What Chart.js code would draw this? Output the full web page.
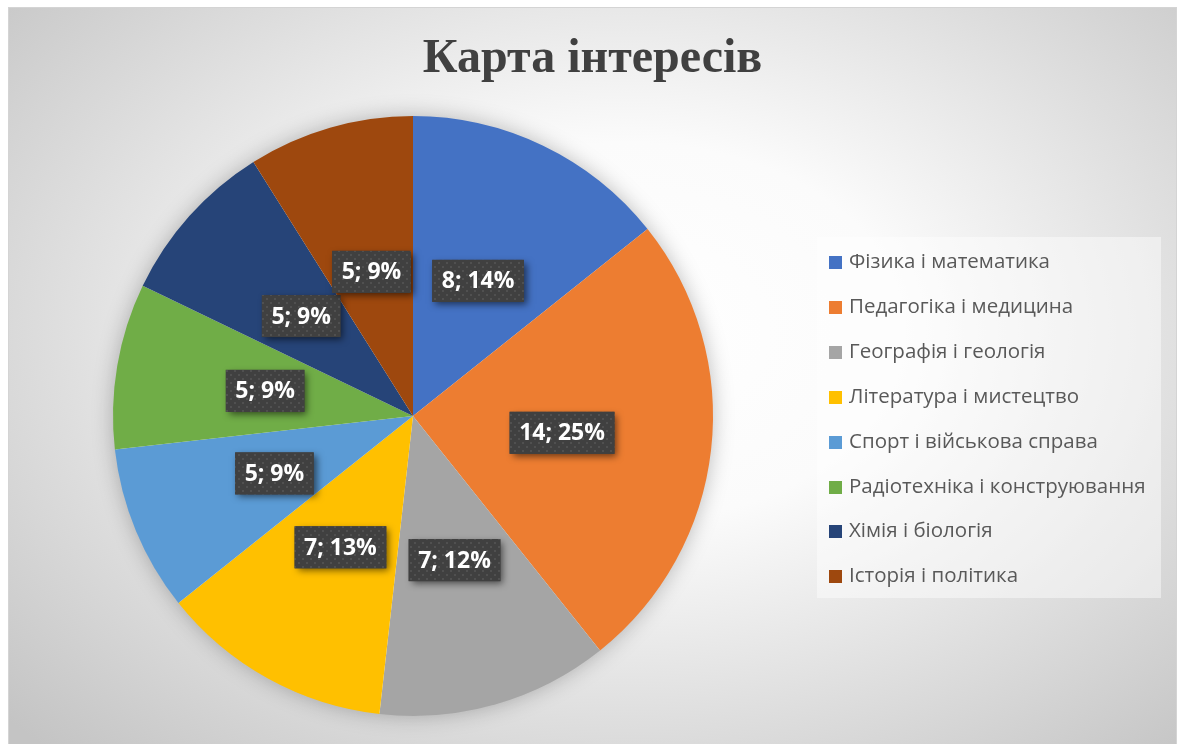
<!DOCTYPE html>
<html>
<head>
<meta charset="utf-8">
<script src="https://cdn.jsdelivr.net/npm/chart.js@4.4.1/dist/chart.umd.min.js"></script>
<style>
  html, body { margin: 0; padding: 0; background: #fff; }
  #frame {
    position: absolute; left: 8px; top: 7px; width: 1167px; height: 737px;
    border: 1px solid #d4d4d4; border-bottom: none;
    background: radial-gradient(ellipse 72% 78% at 53% 44%, #ffffff 0%, #fbfbfb 33%, #dedede 68%, #c4c4c4 100%);
    overflow: hidden;
  }
  #wrap { position: absolute; left: 0; top: 0; width: 1179px; height: 744px; }
  #title {
    position: absolute; left: 0; width: 1185px; top: 28px; text-align: center;
    font: bold 48px "Liberation Serif", "Times New Roman", serif; color: #404040;
  }
  #legend {
    position: absolute; left: 817px; top: 237px; width: 344px; height: 361px;
    background: rgba(255,255,255,0.45);
  }
  .item { position: absolute; left: 12px; height: 24px; line-height: 24px;
    font: 20.5px "Open Sans", sans-serif; color: #595959; white-space: nowrap; }
  .item span.sw { display: inline-block; width: 13px; height: 13px; margin-right: 7px; vertical-align: -1px; }
</style>
</head>
<body>
<div id="frame"></div>
<div id="wrap"><canvas id="pie" width="1179" height="744"></canvas></div>
<div id="title">Карта інтересів</div>
<div id="legend"></div>
<script>
// -----------------------------------------------------------
// DATA
// -----------------------------------------------------------

const categories = [
  "Фізика і математика",
  "Педагогіка і медицина",
  "Географія і геологія",
  "Література і мистецтво",
  "Спорт і військова справа",
  "Радіотехніка і конструювання",
  "Хімія і біологія",
  "Історія і політика"
];
const counts = [8, 14, 7, 7, 5, 5, 5, 5];
const percents = [14, 25, 12, 13, 9, 9, 9, 9];
const colors = ["#4472C4", "#ED7D31", "#A5A5A5", "#FFC000", "#5B9BD5", "#70AD47", "#264478", "#9E480E"];

// -----------------------------------------------------------
// LEGEND (html)
// -----------------------------------------------------------

const legendEl = document.getElementById("legend");
categories.forEach((c, i) => {
  const d = document.createElement("div");
  d.className = "item";
  d.style.top = (9 + i * 44.9) + "px";
  d.innerHTML = `<span class="sw" style="background:${colors[i]}"></span>${c}`;
  legendEl.appendChild(d);
});

// -----------------------------------------------------------
// PLUGINS
// -----------------------------------------------------------

// soft shadow round the pie
const pieShadow = {
  id: "pieShadow",
  beforeDatasetsDraw(chart) {
    const arc = chart.getDatasetMeta(0).data[0];
    if (!arc) return;
    const ctx = chart.ctx;
    ctx.save();
    ctx.shadowColor = "rgba(0,0,0,0.28)";
    ctx.shadowBlur = 22;
    ctx.fillStyle = "#ffffff";
    ctx.beginPath();
    ctx.arc(arc.x, arc.y, arc.outerRadius - 1, 0, Math.PI * 2);
    ctx.fill();
    ctx.restore();
  }
};

function dotPattern(ctx) {
  const p = document.createElement("canvas");
  p.width = 8; p.height = 8;
  const c = p.getContext("2d");
  c.fillStyle = "#404040";
  c.fillRect(0, 0, 8, 8);
  c.fillStyle = "#505050";
  c.fillRect(2, 2, 2, 2);
  c.fillRect(6, 6, 2, 2);
  return ctx.createPattern(p, "repeat");
}

// dark boxed data labels at the arc centre point
const boxLabels = {
  id: "boxLabels",
  afterDatasetsDraw(chart) {
    const ctx = chart.ctx;
    const pat = dotPattern(ctx);
    ctx.save();
    ctx.font = "bold 23px 'Open Sans', sans-serif";
    ctx.textAlign = "center";
    ctx.textBaseline = "middle";
    chart.getDatasetMeta(0).data.forEach((arc, i) => {
      const pt = arc.getCenterPoint();
      const txt = `${counts[i]}; ${percents[i]}%`;
      const w = ctx.measureText(txt).width + 19;
      const h = 42;
      const x = pt.x - w / 2, y = pt.y - h / 2;
      ctx.save();
      ctx.shadowColor = "rgba(0,0,0,0.55)";
      ctx.shadowBlur = 7;
      ctx.shadowOffsetX = 3;
      ctx.shadowOffsetY = 3;
      ctx.fillStyle = "#404040";
      ctx.fillRect(x, y, w, h);
      ctx.restore();
      ctx.fillStyle = pat;
      ctx.fillRect(x, y, w, h);
      ctx.fillStyle = "#ffffff";
      ctx.fillText(txt, pt.x, pt.y + 1);
    });
    ctx.restore();
  }
};

// -----------------------------------------------------------
// CHART
// -----------------------------------------------------------

new Chart(document.getElementById("pie"), {
  type: "pie",
  data: {
    labels: categories,
    datasets: [{
      data: counts,
      backgroundColor: colors,
      borderWidth: 0,
      hoverOffset: 0
    }]
  },
  options: {
    responsive: false,
    animation: false,
    layout: { padding: { left: 113, right: 466, top: 116, bottom: 28 } },
    plugins: {
      legend: { display: false },
      title: { display: false },
      tooltip: { enabled: false }
    },
    events: []
  },
  plugins: [pieShadow, boxLabels]
});
</script>
</body>
</html>
